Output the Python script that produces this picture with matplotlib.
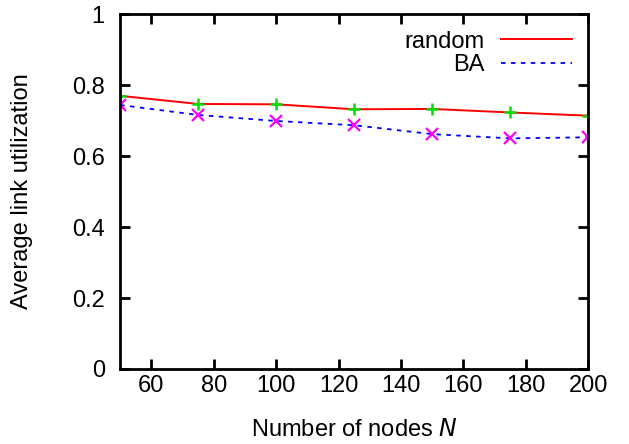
import matplotlib
matplotlib.use("Agg")
import matplotlib.pyplot as plt

plt.rcParams['font.family'] = ['Liberation Sans', 'DejaVu Sans']

N = [50, 75, 100, 125, 150, 175, 200]
random_util = [0.770, 0.747, 0.746, 0.732, 0.733, 0.723, 0.714]
ba_util = [0.744, 0.716, 0.699, 0.687, 0.662, 0.650, 0.653]

fig = plt.figure(figsize=(6.29, 4.44), dpi=100)
ax = fig.add_axes([0.191, 0.169, 0.744, 0.799])

ax.plot(N, random_util, color='red', lw=1.4, label='random')
ax.plot(N, ba_util, color='blue', lw=1.3, ls=(0, (2.5, 3)), label='BA')
ax.plot(N, random_util, ls='none', marker='+', color='#00e000', ms=9, mew=1.8)
ax.plot(N, ba_util, ls='none', marker='x', color='magenta', ms=8, mew=1.6)

ax.set_xlim(50, 200)
ax.set_ylim(0, 1)
ax.set_xticks([60, 80, 100, 120, 140, 160, 180, 200])
ax.set_yticks([0, 0.2, 0.4, 0.6, 0.8, 1])
ax.set_yticklabels(['0', '0.2', '0.4', '0.6', '0.8', '1'])
ax.tick_params(direction='in', top=True, right=True, length=7, width=2, labelsize=17)
ax.tick_params(axis='x', pad=4)
ax.tick_params(axis='y', pad=11)
for s in ax.spines.values():
    s.set_linewidth(2)

ax.set_xlabel('Number of nodes $\\it{N}$', fontsize=17, labelpad=16)
ax.set_ylabel('Average link utilization', fontsize=17, labelpad=28)

leg = ax.legend(loc='upper right', frameon=False, fontsize=17, markerfirst=False,
                handlelength=3.0, borderaxespad=0.3, labelspacing=0.05, handletextpad=0.7)

fig.savefig('out.png', dpi=100)
